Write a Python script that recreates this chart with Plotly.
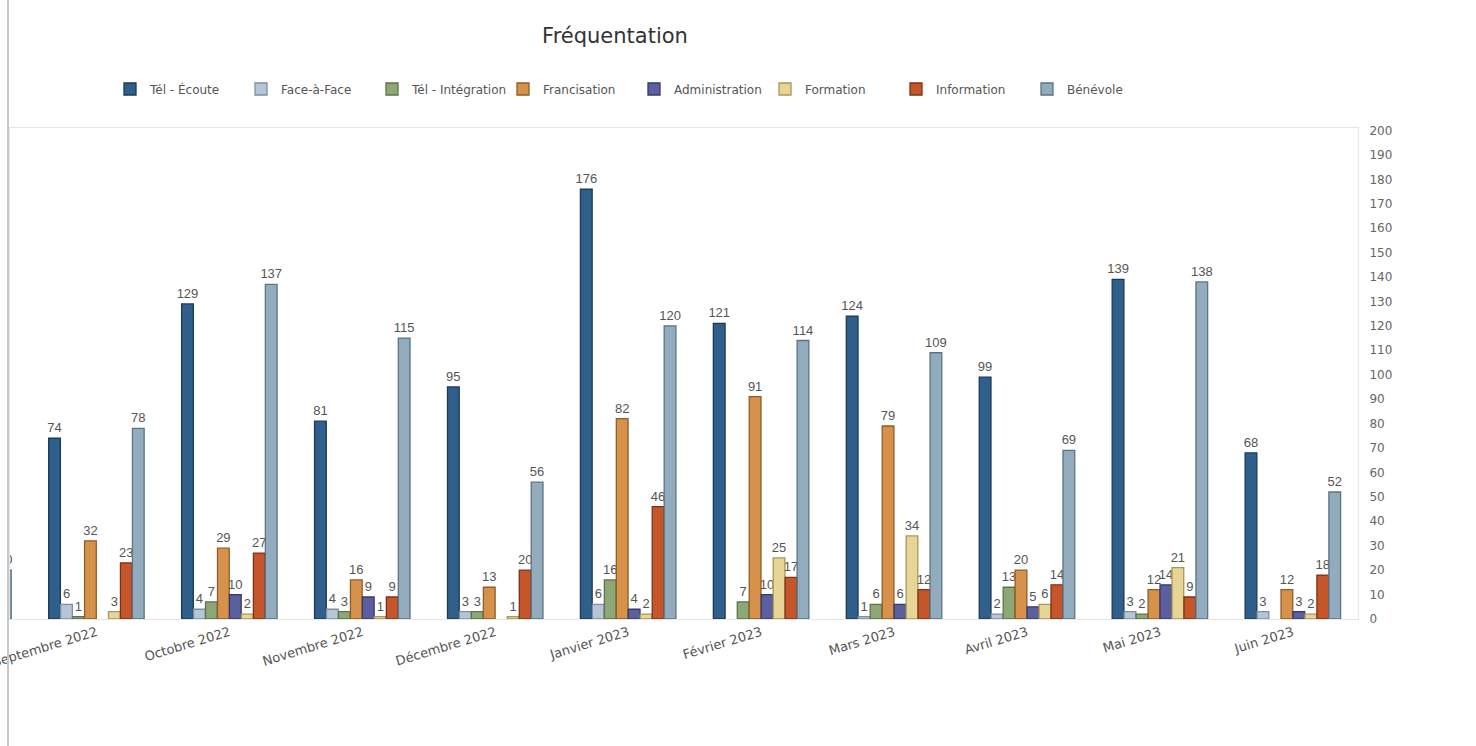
import plotly.graph_objects as go

months = ["Août 2022", "Septembre 2022", "Octobre 2022", "Novembre 2022", "Décembre 2022",
          "Janvier 2023", "Février 2023", "Mars 2023", "Avril 2023", "Mai 2023", "Juin 2023"]

series_names = ["Tél - Écoute", "Face-à-Face", "Tél - Intégration", "Francisation",
                "Administration", "Formation", "Information", "Bénévole"]

tel_ecoute = [None, 74, 129, 81, 95, 176, 121, 124, 99, 139, 68]
face_a_face = [None, 6, 4, 4, 3, 6, None, 1, 2, 3, 3]
tel_integration = [None, 1, 7, 3, 3, 16, 7, 6, 13, 2, None]
francisation = [None, 32, 29, 16, 13, 82, 91, 79, 20, 12, 12]
administration = [None, None, 10, 9, None, 4, 10, 6, 5, 14, 3]
formation = [None, 3, 2, 1, 1, 2, 25, 34, 6, 21, 2]
information = [None, 23, 27, 9, 20, 46, 17, 12, 14, 9, 18]
benevole = [20, 78, 137, 115, 56, 120, 114, 109, 69, 138, 52]

y_ticks = list(range(0, 201, 10))

fill_colors = ["#2f5f8a", "#b7c6d6", "#8ea777", "#d6924b",
               "#5b5f9f", "#e7d595", "#c5562b", "#93acbd"]
edge_colors = ["#1b3a57", "#7d8fa3", "#5d7348", "#8f5d27",
               "#363a6b", "#a8975a", "#7e3215", "#5b7485"]

all_values = [tel_ecoute, face_a_face, tel_integration, francisation,
              administration, formation, information, benevole]

fig = go.Figure()
for name, vals, fc, ec in zip(series_names, all_values, fill_colors, edge_colors):
    fig.add_trace(go.Bar(
        name=name, x=months, y=vals,
        marker=dict(color=fc, line=dict(color=ec, width=1.3)),
        text=[("" if v is None else str(v)) for v in vals],
        textposition="outside", textangle=0, constraintext="none",
        cliponaxis=True,
        textfont=dict(family="Liberation Sans, Arial, sans-serif", size=13, color="#555555"),
    ))

fig.update_layout(
    width=1476, height=746,
    margin=dict(l=10, r=118, t=128, b=127),
    paper_bgcolor="white", plot_bgcolor="white",
    barmode="group", bargap=0.28, bargroupgap=0.02,
    font=dict(family="DejaVu Sans, Verdana, sans-serif", color="#555555"),
    title=dict(text="Fréquentation", x=615 / 1476, xref="container", xanchor="center",
               y=1 - 36 / 746, yanchor="middle",
               font=dict(family="DejaVu Sans, Verdana, sans-serif", size=21, color="#333333")),
    legend=dict(orientation="h", x=(110 - 10) / 1348, xanchor="left",
                y=1 + (128 - 89) / 491, yanchor="middle",
                font=dict(size=12, color="#555555"),
                entrywidth=86, entrywidthmode="pixels",
                traceorder="normal"),
    showlegend=True,
)

fig.update_xaxes(range=[0.35, 10.49], tickangle=-17, showgrid=False, automargin=False,
                 tickfont=dict(size=13, color="#555555"),
                 showline=True, linecolor="#e6e6e6", mirror=True, ticks="")
fig.update_yaxes(range=[0, 201], side="right", tickvals=y_ticks, showgrid=False,
                 automargin=False,
                 tickfont=dict(size=12, color="#666666"), zeroline=False,
                 ticklabelstandoff=8,
                 showline=True, linecolor="#e6e6e6", mirror=True, ticks="")

fig.add_shape(type="line", xref="paper", yref="paper",
              x0=-2 / 1348, x1=-2 / 1348, y0=-127 / 491, y1=1 + 128 / 491,
              line=dict(color="#c8c8c8", width=2))

fig.write_html("out.html")
